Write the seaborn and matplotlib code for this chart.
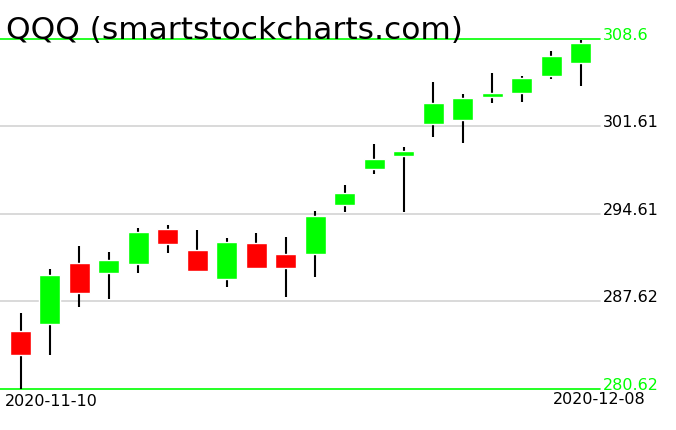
import matplotlib
matplotlib.use("Agg")
import matplotlib.pyplot as plt
import seaborn as sns
import pandas as pd

# QQQ daily candles
dates = ["2020-11-10", "2020-11-11", "2020-11-12", "2020-11-13", "2020-11-16",
         "2020-11-17", "2020-11-18", "2020-11-19", "2020-11-20", "2020-11-23",
         "2020-11-24", "2020-11-25", "2020-11-27", "2020-11-30", "2020-12-01",
         "2020-12-02", "2020-12-03", "2020-12-04", "2020-12-07", "2020-12-08"]
opens = [285.26, 285.84, 290.69, 289.89, 290.61, 293.41, 291.73, 289.41, 292.29, 291.41,
         291.41, 295.35, 298.23, 299.27, 301.80, 302.12, 303.96, 304.28, 305.64, 306.68]
highs = [286.70, 290.21, 292.05, 291.57, 293.49, 293.73, 293.33, 292.69, 293.09, 292.77,
         294.85, 296.93, 300.21, 299.97, 305.16, 304.20, 305.88, 305.64, 307.64, 308.52]
lows = [280.62, 283.36, 287.18, 287.81, 289.89, 291.49, 289.97, 288.77, 290.21, 287.97,
        289.57, 294.77, 297.83, 294.75, 300.79, 300.31, 303.48, 303.56, 305.40, 304.84]
closes = [283.36, 289.73, 288.29, 290.93, 293.17, 292.21, 290.05, 292.37, 290.29, 290.29,
          294.45, 296.29, 299.01, 299.65, 303.48, 303.88, 304.28, 305.48, 307.24, 308.28]
price_ticks = [280.62, 287.62, 294.61, 301.61, 308.6]
tick_labels = ["280.62", "287.62", "294.61", "301.61", "308.6"]
title = "QQQ (smartstockcharts.com)"

sns.set_theme(style="white")
plt.rcParams['font.family'] = ['DejaVu Sans']

df = pd.DataFrame({'date': dates, 'open': opens, 'high': highs, 'low': lows, 'close': closes})
df['pos'] = range(len(df))
df['up'] = df['close'] >= df['open']
df['bottom'] = df[['open', 'close']].min(axis=1)
df['height'] = (df['close'] - df['open']).abs()

W, H = 676, 431
fig = plt.figure(figsize=(W / 100, H / 100), dpi=100)
ax = fig.add_axes([0, 41 / H, 600 / W, 350 / H])

# grid and boundary lines
for i, t in enumerate(price_ticks):
    edge = i == 0 or i == len(price_ticks) - 1
    ax.axhline(t, color='#00ff00' if edge else '#d3d3d3', lw=1.2, clip_on=False, zorder=1)
    ax.text(1.004, t, tick_labels[i], transform=ax.get_yaxis_transform(),
            ha='left', va='baseline', fontsize=11.5,
            color='#00ff00' if edge else 'black')

# wicks and bodies
ax.vlines(df['pos'], df['low'], df['high'], color='black', lw=1.5, zorder=2)
colors = ['#00ff00' if u else '#ff0000' for u in df['up']]
ax.bar(df['pos'], df['height'], bottom=df['bottom'], width=0.713, color=colors, zorder=3)

ax.set_xlim(-0.696, 19.66)
ax.set_ylim(price_ticks[0], price_ticks[-1])
ax.axis('off')

fig.text(6 / W, 1 - 39 / H, title, fontsize=22.5, ha='left', va='baseline', color='black')
fig.text(5 / W, 1 - 406 / H, dates[0], fontsize=11.5, ha='left', va='baseline', color='black')
fig.text(646 / W, 1 - 404 / H, dates[-1], fontsize=11.5, ha='right', va='baseline', color='black')

fig.savefig("out.png", dpi=100)
